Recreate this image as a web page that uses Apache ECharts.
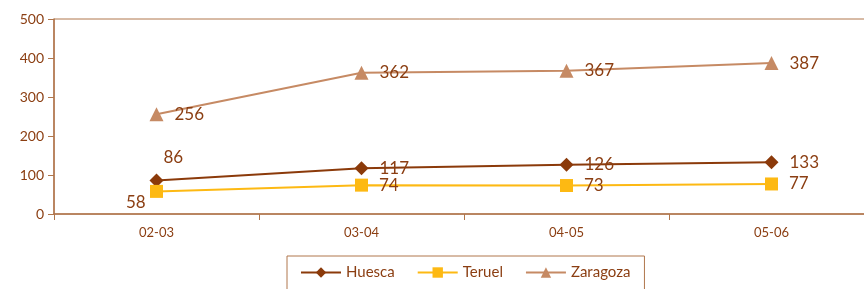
<!DOCTYPE html>
<html><head><meta charset="utf-8">
<script src="https://cdn.jsdelivr.net/npm/echarts@6/dist/echarts.min.js"></script>
<style>html,body{margin:0;padding:0;background:#fff}#c{width:864px;height:289px}</style>
</head><body><div id="c"></div>
<script>
const categories = ['02-03','03-04','04-05','05-06'];
const huesca = [86,117,126,133];
const teruel = [58,74,73,77];
const zaragoza = [256,362,367,387];
const yTicks = [0,100,200,300,400,500];

const axisColor = '#B0764C';
const textColor = '#8B3E12';
const font = 'Lato';

function mk(vals, special) {
  return vals.map((v,i)=> special[i] ? {value:v, label:special[i]} : v);
}
const chart = echarts.init(document.getElementById('c'));
chart.setOption({
  animation:false,
  textStyle:{fontFamily:font},
  grid:{left:54,right:-10,top:19,bottom:75,show:true,borderColor:axisColor,borderWidth:1,backgroundColor:'transparent',containLabel:false,outerBoundsMode:'none'},
  xAxis:{type:'category',data:categories,boundaryGap:true,
    axisLine:{lineStyle:{color:axisColor,width:1.5}},
    axisTick:{show:true,length:6,lineStyle:{color:axisColor}},
    axisLabel:{color:textColor,fontSize:13,margin:12,fontFamily:font}},
  yAxis:{type:'value',min:0,max:500,interval:100,
    axisLine:{show:true,lineStyle:{color:axisColor,width:1.5}},
    axisTick:{show:true,length:6,lineStyle:{color:axisColor}},
    splitLine:{show:false},
    axisLabel:{color:textColor,fontSize:14,margin:10,fontFamily:font,formatter:v=>yTicks.includes(v)?String(v):''}},
  legend:{bottom:-12,top:256,left:287,width:353,itemGap:22,
    borderColor:axisColor,borderWidth:1,padding:[9,14,20,13],
    itemWidth:40,itemHeight:13,
    textStyle:{color:textColor,fontSize:15,fontFamily:font},
    data:['Huesca','Teruel','Zaragoza']},
  series:[
    {name:'Huesca',type:'line',data:mk(huesca,[{position:[14,-24]},null,null,null]),
      symbol:'diamond',symbolSize:14,
      lineStyle:{color:'#8B3A0A',width:2},itemStyle:{color:'#8B3A0A'},
      label:{show:true,position:'right',distance:11,color:textColor,fontSize:17,fontFamily:font}},
    {name:'Teruel',type:'line',data:mk(teruel,[{position:[-24,9]},null,null,null]),
      symbol:'rect',symbolSize:13,
      lineStyle:{color:'#FDB913',width:2},itemStyle:{color:'#FDB913'},
      label:{show:true,position:'right',distance:11,color:textColor,fontSize:17,fontFamily:font}},
    {name:'Zaragoza',type:'line',data:zaragoza,
      symbol:'triangle',symbolSize:14,
      lineStyle:{color:'#C68A64',width:2},itemStyle:{color:'#C68A64'},
      label:{show:true,position:'right',distance:11,color:textColor,fontSize:17,fontFamily:font}}
  ]
});
</script></body></html>
